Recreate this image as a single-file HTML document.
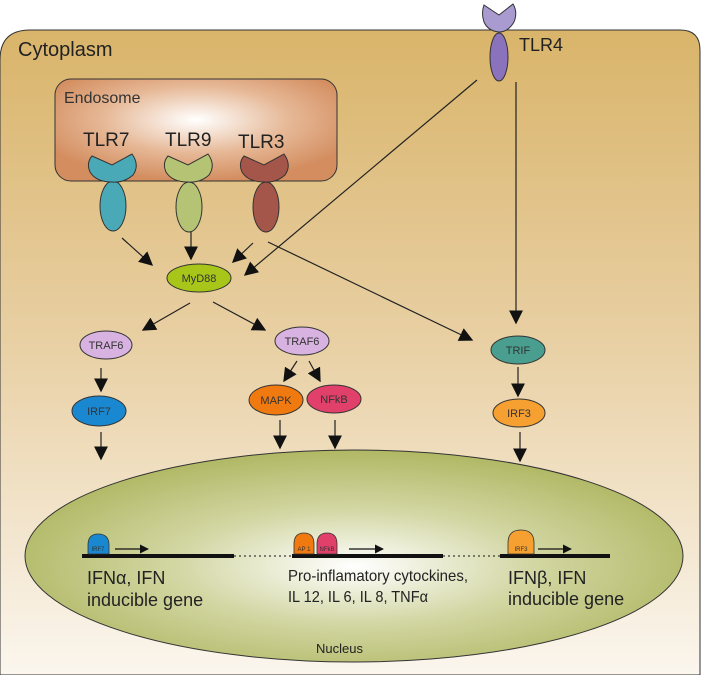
<!DOCTYPE html>
<html><head><meta charset="utf-8"><style>
html,body{margin:0;padding:0;background:#fff;}
svg{display:block;font-family:"Liberation Sans",sans-serif;}
</style></head><body>
<svg width="701" height="675" viewBox="0 0 701 675" xmlns="http://www.w3.org/2000/svg">
<defs>
<linearGradient id="cyto" x1="0" y1="0" x2="0" y2="1">
<stop offset="0" stop-color="#d9b46a"/><stop offset="0.5" stop-color="#e9d1a6"/><stop offset="1" stop-color="#fbf6ee"/>
</linearGradient>
<radialGradient id="endo" cx="0.5" cy="0.4" r="0.6">
<stop offset="0" stop-color="#ffffff"/><stop offset="0.55" stop-color="#e6b896"/><stop offset="1" stop-color="#d38d5f"/>
</radialGradient>
<radialGradient id="nuc" cx="0.5" cy="0.55" r="0.55">
<stop offset="0" stop-color="#ffffff"/><stop offset="0.5" stop-color="#d2d6a2"/><stop offset="1" stop-color="#b0b864"/>
</radialGradient>
<marker id="ah" viewBox="0 0 10 10" refX="9" refY="5" markerWidth="9" markerHeight="9" markerUnits="userSpaceOnUse" orient="auto">
<path d="M0,0 L10,5 L0,10 z" fill="#111"/></marker>
<marker id="ahb" viewBox="0 0 10 10" refX="9" refY="5" markerWidth="14" markerHeight="14" markerUnits="userSpaceOnUse" orient="auto">
<path d="M0,0 L10,5 L0,10 z" fill="#111"/></marker>
</defs>
<path d="M0,60 Q0,30 30,30 L680,30 Q700,30 700,50 L700,675 L0,675 Z" fill="url(#cyto)" stroke="#333" stroke-width="1"/>
<text x="18" y="56" font-size="20" fill="#222">Cytoplasm</text>
<rect x="55" y="79" width="282" height="102" rx="16" fill="url(#endo)" stroke="#333" stroke-width="1"/>
<text x="64" y="103" font-size="16" fill="#333">Endosome</text>
<text x="83" y="146" font-size="19" fill="#222">TLR7</text>
<text x="165" y="146" font-size="19" fill="#222">TLR9</text>
<text x="238" y="148" font-size="19" fill="#222">TLR3</text>
<g stroke="#333" stroke-width="1">
<ellipse cx="113" cy="206" rx="13" ry="25" fill="#4aa9b7"/>
<path d="M92,156 L112,165 L132,154 Q140,165 133,175 Q124,183 112,182 Q96,182 90,172 Q86,163 92,156 Z" fill="#4aa9b7"/>
<ellipse cx="189" cy="207" rx="13" ry="25" fill="#b4c474"/>
<path d="M168,156 L188,165 L208,154 Q216,165 209,175 Q200,183 188,182 Q172,182 166,172 Q162,163 168,156 Z" fill="#b4c474"/>
<ellipse cx="266" cy="207" rx="13" ry="25" fill="#a5564a"/>
<path d="M244,156 L264,165 L284,154 Q292,165 285,175 Q276,183 264,182 Q248,182 242,172 Q238,163 244,156 Z" fill="#a5564a"/>
<ellipse cx="499" cy="57" rx="9" ry="24" fill="#8a72bc"/>
<path d="M484,5 L499,15 L513,4 Q518,12 514,22 Q508,32 499,32 Q488,31 484,22 Q481,13 484,5 Z" fill="#a99ad0"/>
</g>
<text x="519" y="51" font-size="18" fill="#222">TLR4</text>
<g stroke="#222" stroke-width="1.2" fill="none">
<line x1="122" y1="238" x2="152" y2="265" marker-end="url(#ahb)"/>
<line x1="191" y1="232" x2="191" y2="259" marker-end="url(#ahb)"/>
<line x1="253" y1="243" x2="233" y2="262" marker-end="url(#ahb)"/>
<line x1="477" y1="80" x2="245" y2="275" marker-end="url(#ahb)"/>
<line x1="268" y1="242" x2="472" y2="340" marker-end="url(#ahb)"/>
<line x1="516" y1="82" x2="516" y2="323" marker-end="url(#ahb)"/>
<line x1="190" y1="303" x2="143" y2="330" marker-end="url(#ahb)"/>
<line x1="213" y1="302" x2="265" y2="330" marker-end="url(#ahb)"/>
<line x1="101" y1="368" x2="101" y2="391" marker-end="url(#ahb)"/>
<line x1="101" y1="432" x2="101" y2="459" marker-end="url(#ahb)"/>
<line x1="297" y1="361" x2="284" y2="381" marker-end="url(#ahb)"/>
<line x1="309" y1="361" x2="320" y2="381" marker-end="url(#ahb)"/>
<line x1="280" y1="420" x2="280" y2="448" marker-end="url(#ahb)"/>
<line x1="335" y1="420" x2="335" y2="448" marker-end="url(#ahb)"/>
<line x1="518" y1="367" x2="518" y2="396" marker-end="url(#ahb)"/>
<line x1="520" y1="432" x2="520" y2="461" marker-end="url(#ahb)"/>
</g>
<g stroke="#333" stroke-width="1">
<ellipse cx="199" cy="278" rx="32" ry="14" fill="#a8c61a"/>
<ellipse cx="106" cy="345" rx="26" ry="14" fill="#d8b2e0"/>
<ellipse cx="99" cy="411" rx="27" ry="15" fill="#1a88d0"/>
<ellipse cx="302" cy="341" rx="27" ry="14" fill="#d8b2e0"/>
<ellipse cx="276" cy="400" rx="27" ry="15" fill="#f07a10"/>
<ellipse cx="334" cy="399" rx="27" ry="14" fill="#e0406a"/>
<ellipse cx="518" cy="350" rx="27" ry="14" fill="#4a9e8f"/>
<ellipse cx="519" cy="413" rx="26" ry="14" fill="#f5a030"/>
</g>
<g font-size="11" fill="#333" text-anchor="middle">
<text x="199" y="282">MyD88</text>
<text x="106" y="349">TRAF6</text>
<text x="99" y="415">IRF7</text>
<text x="302" y="345">TRAF6</text>
<text x="276" y="404">MAPK</text>
<text x="334" y="403">NFkB</text>
<text x="518" y="354">TRIF</text>
<text x="519" y="417">IRF3</text>
</g>
<ellipse cx="354" cy="556" rx="329" ry="106" fill="url(#nuc)" stroke="#333" stroke-width="1"/>
<g stroke="#111">
<line x1="82" y1="556" x2="234" y2="556" stroke-width="4"/>
<line x1="292" y1="556" x2="443" y2="556" stroke-width="4"/>
<line x1="500" y1="556" x2="610" y2="556" stroke-width="4"/>
<line x1="234" y1="556" x2="292" y2="556" stroke-width="1" stroke-dasharray="2,3"/>
<line x1="443" y1="556" x2="500" y2="556" stroke-width="1" stroke-dasharray="2,3"/>
<line x1="115" y1="549" x2="148" y2="549" stroke-width="1.2" marker-end="url(#ah)"/>
<line x1="349" y1="549" x2="383" y2="549" stroke-width="1.2" marker-end="url(#ah)"/>
<line x1="538" y1="549" x2="571" y2="549" stroke-width="1.2" marker-end="url(#ah)"/>
</g>
<g stroke="#333" stroke-width="0.8">
<path d="M88,554 L88,545 Q88,534 98,534 Q109,534 109,545 L109,554 Z" fill="#1a88d0"/>
<path d="M294,554 L294,544 Q294,533 304,533 Q314,533 314,544 L314,554 Z" fill="#f07a10"/>
<path d="M317,554 L317,544 Q317,533 327,533 Q337,533 337,544 L337,554 Z" fill="#e0406a"/>
<path d="M508,554 L508,543 Q508,530 521,530 Q534,530 534,543 L534,554 Z" fill="#f5a030"/>
</g>
<g font-size="6" fill="#333" text-anchor="middle">
<text x="98" y="551">IRF7</text><text x="304" y="551">AP 1</text><text x="327" y="551">NFkB</text><text x="521" y="551">IRF3</text>
</g>
<g fill="#222">
<text x="87" y="584" font-size="18">IFNα, IFN</text>
<text x="87" y="606" font-size="18">inducible gene</text>
<text x="288" y="581" font-size="16" textLength="180" lengthAdjust="spacingAndGlyphs">Pro-inflamatory cytockines,</text>
<text x="288" y="602" font-size="16" textLength="140" lengthAdjust="spacingAndGlyphs">IL 12, IL 6, IL 8, TNFα</text>
<text x="508" y="584" font-size="18">IFNβ, IFN</text>
<text x="508" y="605" font-size="18">inducible gene</text>
<text x="316" y="653" font-size="13">Nucleus</text>
</g>
</svg>
</body></html>
